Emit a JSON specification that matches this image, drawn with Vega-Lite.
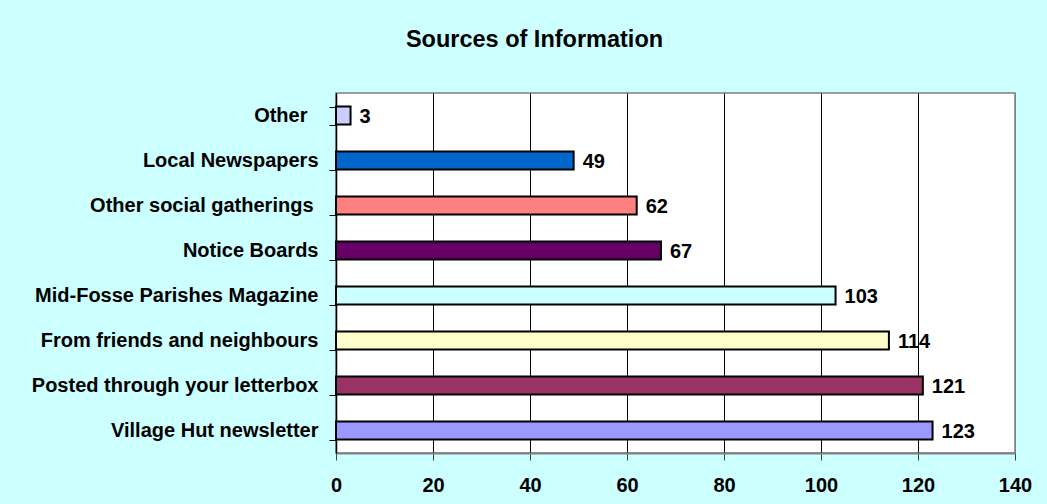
{
  "$schema": "https://vega.github.io/schema/vega-lite/v6.json",
  "autosize": "none",
  "width": 679,
  "height": 360,
  "padding": {"left": 336, "top": 93, "right": 32, "bottom": 51},
  "background": "#CCFFFF",
  "config": {
    "font": "Liberation Sans",
    "view": {"fill": "white", "stroke": "#808080", "strokeWidth": 1.5}
  },
  "title": {
    "text": "Sources of Information",
    "font": "Liberation Sans",
    "fontSize": 23.5,
    "fontWeight": "bold",
    "color": "black",
    "anchor": "middle",
    "baseline": "alphabetic",
    "dx": -141,
    "offset": 13
  },
  "data": {
    "values": [
      {"source": "Other", "count": 3},
      {"source": "Local Newspapers", "count": 49},
      {"source": "Other social gatherings", "count": 62},
      {"source": "Notice Boards", "count": 67},
      {"source": "Mid-Fosse Parishes Magazine", "count": 103},
      {"source": "From friends and neighbours", "count": 114},
      {"source": "Posted through your letterbox", "count": 121},
      {"source": "Village Hut newsletter", "count": 123}
    ]
  },
  "encoding": {
    "y": {
      "field": "source",
      "type": "nominal",
      "sort": null,
      "title": null,
      "scale": {"paddingInner": 0.6, "paddingOuter": 0.3},
      "axis": {
        "tickBand": "extent",
        "tickSize": 7,
        "tickColor": "black",
        "tickWidth": 1,
        "domainColor": "black",
        "domainWidth": 1.5,
        "labelFont": "Liberation Sans",
        "labelFontSize": 20,
        "labelFontWeight": "bold",
        "labelColor": "black",
        "labelPadding": {"condition": [
          {"test": "datum.value === 'Other'", "value": 22},
          {"test": "datum.value === 'Other social gatherings'", "value": 16}
        ], "value": 11},
        "labelLimit": 400,
        "grid": false
      }
    },
    "x": {
      "field": "count",
      "type": "quantitative",
      "title": null,
      "scale": {"domain": [0, 140], "nice": false},
      "axis": {
        "values": [0, 20, 40, 60, 80, 100, 120, 140],
        "grid": true,
        "gridColor": {"condition": {"test": "datum.value === 140", "value": "#808080"}, "value": "black"},
        "gridWidth": 1,
        "gridOpacity": 1,
        "domainColor": "#808080",
        "domainWidth": 2,
        "tickColor": "#404040",
        "tickSize": 7,
        "tickWidth": 1,
        "labelFont": "Liberation Sans",
        "labelFontSize": 20,
        "labelFontWeight": "bold",
        "labelColor": "black",
        "labelPadding": 15,
        "labelFlush": false
      }
    }
  },
  "layer": [
    {
      "mark": {"type": "bar", "stroke": "black", "strokeWidth": 2},
      "encoding": {
        "color": {
          "field": "source",
          "type": "nominal",
          "legend": null,
          "scale": {
            "domain": ["Other", "Local Newspapers", "Other social gatherings", "Notice Boards", "Mid-Fosse Parishes Magazine", "From friends and neighbours", "Posted through your letterbox", "Village Hut newsletter"],
            "range": ["#CCCCFF", "#0066CC", "#FF8080", "#660066", "#CCFFFF", "#FFFFCC", "#993366", "#9999FF"]
          }
        }
      }
    },
    {
      "mark": {"type": "text", "align": "left", "baseline": "middle", "dx": 9, "dy": 1, "font": "Liberation Sans", "fontSize": 20, "fontWeight": "bold", "color": "black"},
      "encoding": {
        "text": {"field": "count", "type": "quantitative"}
      }
    }
  ]
}
